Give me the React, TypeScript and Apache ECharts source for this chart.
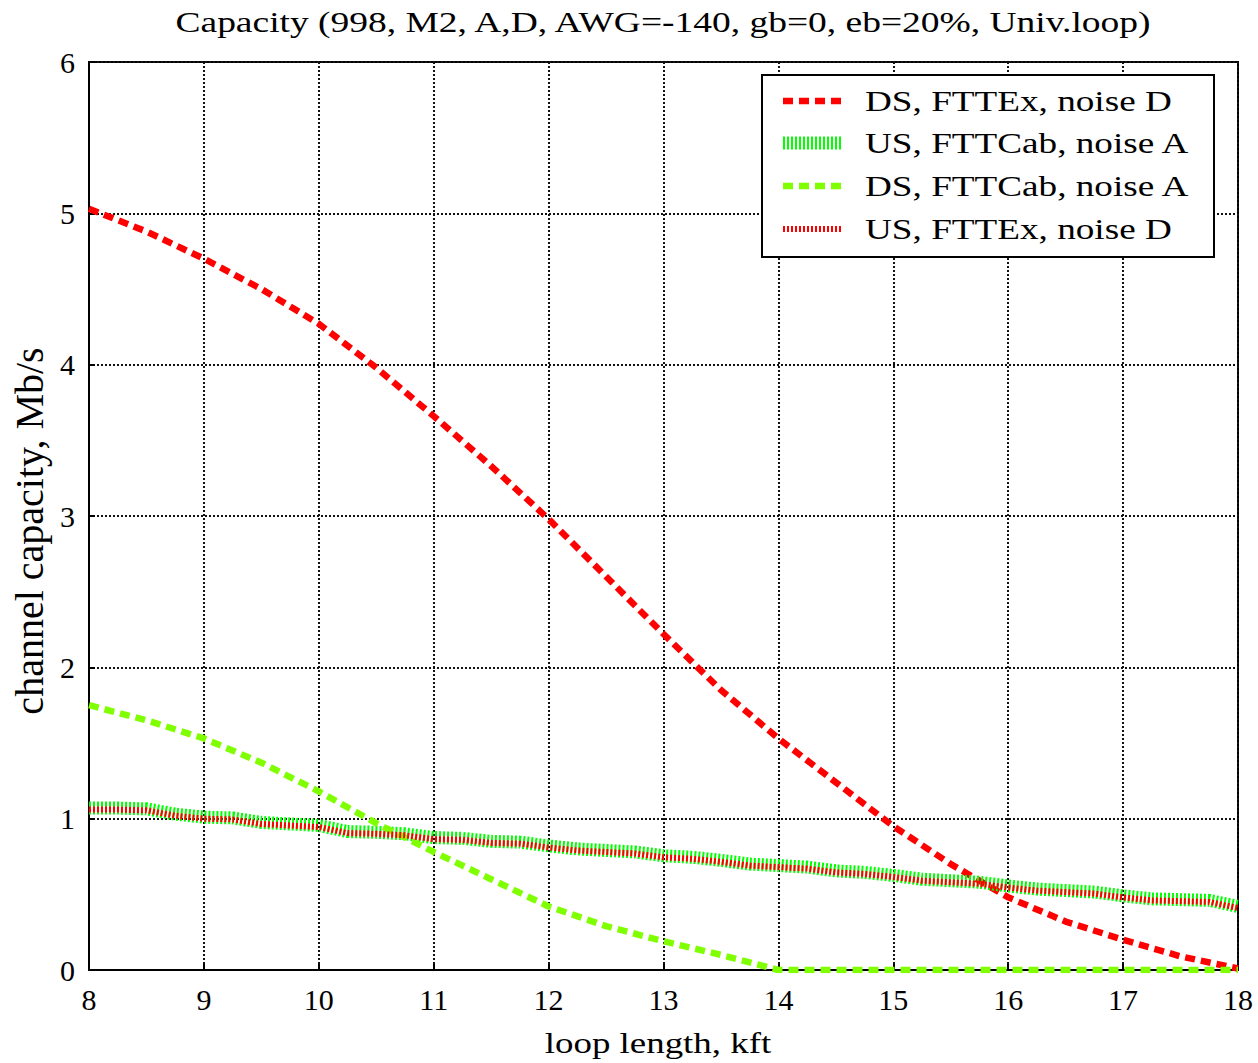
import React, { useEffect, useRef } from "react";
import * as echarts from "echarts";

const dsX = [8, 8.5, 9, 9.5, 10, 10.5, 11, 11.5, 12, 12.5, 13, 13.5, 14, 14.5, 15, 15.5, 16, 16.5, 17, 17.5, 18];
const dsFttexNoiseD = [5.03, 4.88, 4.7, 4.5, 4.27, 3.98, 3.66, 3.33, 2.98, 2.6, 2.22, 1.85, 1.53, 1.24, 0.95, 0.7, 0.48, 0.32, 0.2, 0.09, 0.01];
const dsFttcabNoiseA = [1.75, 1.65, 1.53, 1.37, 1.18, 0.97, 0.78, 0.6, 0.42, 0.29, 0.19, 0.1, 0, 0, 0, 0, 0, 0, 0, 0, 0];

const usX = [8, 8.25, 8.5, 8.75, 9, 9.25, 9.5, 9.75, 10, 10.25, 10.5, 10.75, 11, 11.25, 11.5, 11.75, 12, 12.25, 12.5, 12.75, 13, 13.25, 13.5, 13.75, 14, 14.25, 14.5, 14.75, 15, 15.25, 15.5, 15.75, 16, 16.25, 16.5, 16.75, 17, 17.25, 17.5, 17.75, 18];
const usFttcabNoiseA = [1.07, 1.07, 1.065, 1.03, 1.01, 1.005, 0.975, 0.965, 0.955, 0.915, 0.91, 0.9, 0.875, 0.87, 0.85, 0.845, 0.82, 0.8, 0.79, 0.78, 0.755, 0.745, 0.725, 0.7, 0.69, 0.68, 0.655, 0.645, 0.625, 0.6, 0.59, 0.58, 0.555, 0.535, 0.525, 0.515, 0.49, 0.47, 0.465, 0.46, 0.42];
const usFttexNoiseD = [1.06, 1.06, 1.055, 1.02, 1.0, 0.995, 0.965, 0.955, 0.945, 0.905, 0.9, 0.89, 0.865, 0.86, 0.84, 0.835, 0.81, 0.79, 0.78, 0.77, 0.745, 0.735, 0.715, 0.69, 0.68, 0.67, 0.645, 0.635, 0.615, 0.59, 0.58, 0.57, 0.545, 0.525, 0.515, 0.505, 0.48, 0.46, 0.455, 0.45, 0.41];

const xRange = [8, 18];
const yRange = [0, 6];

const seriesNames = [
  "DS, FTTEx, noise D",
  "US, FTTCab, noise A",
  "DS, FTTCab, noise A",
  "US, FTTEx, noise D",
];

const titleText = "Capacity (998, M2, A,D, AWG=-140, gb=0, eb=20%, Univ.loop)";
const xName = "loop length, kft";
const yName = "channel capacity, Mb/s";

const FONT = "Liberation Serif";

const zip = (xs: number[], ys: number[]) => xs.map((x, i) => [x, ys[i]]);

export default function App() {
  const ref = useRef<HTMLDivElement>(null);
  useEffect(() => {
    if (!ref.current) return;
    const chart = echarts.init(ref.current, null, { renderer: "svg" });
    const styles = [
      { color: "#ff0000", width: 6.5, type: [10, 6] },
      { color: "#00ff00", width: 13, type: [2, 2] },
      { color: "#7fff00", width: 6.5, type: [10, 6] },
      { color: "#ff0000", width: 6, type: [2, 2] },
    ];
    const datas = [
      zip(dsX, dsFttexNoiseD),
      zip(usX, usFttcabNoiseA),
      zip(dsX, dsFttcabNoiseA),
      zip(usX, usFttexNoiseD),
    ];
    const legendYs = [101, 143, 186, 229];
    const textBase = { fontFamily: FONT, fontSize: 30, fill: "#000" };
    const graphic: any[] = [
      {
        type: "text",
        x: 663,
        y: 22,
        scaleX: 1.25,
        style: { ...textBase, text: titleText, textAlign: "center", textVerticalAlign: "middle" },
      },
      {
        type: "text",
        x: 658,
        y: 1043,
        scaleX: 1.23,
        style: { ...textBase, text: xName, textAlign: "center", textVerticalAlign: "middle" },
      },
      {
        type: "text",
        x: 29,
        y: 531,
        rotation: Math.PI / 2,
        style: { ...textBase, fontSize: 40, text: yName, textAlign: "center", textVerticalAlign: "middle" },
      },
      {
        type: "rect",
        z: 100,
        shape: { x: 762, y: 75, width: 452, height: 182 },
        style: { fill: "#fff", stroke: "#000", lineWidth: 2 },
      },
    ];
    seriesNames.forEach((n, i) => {
      graphic.push({
        type: "line",
        z: 101,
        shape: { x1: 783, y1: legendYs[i], x2: 843, y2: legendYs[i] },
        style: { stroke: styles[i].color, lineWidth: styles[i].width, lineDash: styles[i].type, lineCap: "butt" },
      });
      graphic.push({
        type: "text",
        z: 101,
        x: 865,
        y: legendYs[i],
        scaleX: 1.24,
        style: { ...textBase, text: n, textAlign: "left", textVerticalAlign: "middle" },
      });
    });
    chart.setOption({
      animation: false,
      backgroundColor: "#ffffff",
      grid: {
        left: 89,
        right: 20,
        top: 62,
        bottom: 93,
        show: true,
        borderColor: "#000",
        borderWidth: 2,
        backgroundColor: "transparent",
      },
      graphic,
      xAxis: {
        type: "value",
        min: xRange[0],
        max: xRange[1],
        interval: 1,
        axisLine: { show: true, lineStyle: { color: "#000", width: 2 } },
        axisTick: { show: true, inside: true, length: 6, lineStyle: { color: "#000", width: 2 } },
        axisLabel: { fontFamily: FONT, fontSize: 30, color: "#000", margin: 14 },
        splitLine: { show: true, lineStyle: { color: "#111", width: 2, type: [2, 2] } },
      },
      yAxis: {
        type: "value",
        min: yRange[0],
        max: yRange[1],
        interval: 1,
        axisLine: { show: true, lineStyle: { color: "#000", width: 2 } },
        axisTick: { show: true, inside: true, length: 6, lineStyle: { color: "#000", width: 2 } },
        axisLabel: { fontFamily: FONT, fontSize: 30, color: "#000", margin: 14 },
        splitLine: { show: true, lineStyle: { color: "#111", width: 2, type: [2, 2] } },
      },
      series: seriesNames.map((n, i) => ({
        name: n,
        type: "line",
        symbol: "none",
        data: datas[i],
        z: 2 + i,
        lineStyle: { color: styles[i].color, width: styles[i].width, type: styles[i].type, cap: "butt" },
        itemStyle: { color: styles[i].color },
      })),
    });
    return () => chart.dispose();
  }, []);
  return (
    <div
      ref={ref}
      style={{ position: "fixed", left: 0, top: 0, width: 1258, height: 1063, background: "#fff" }}
    />
  );
}
